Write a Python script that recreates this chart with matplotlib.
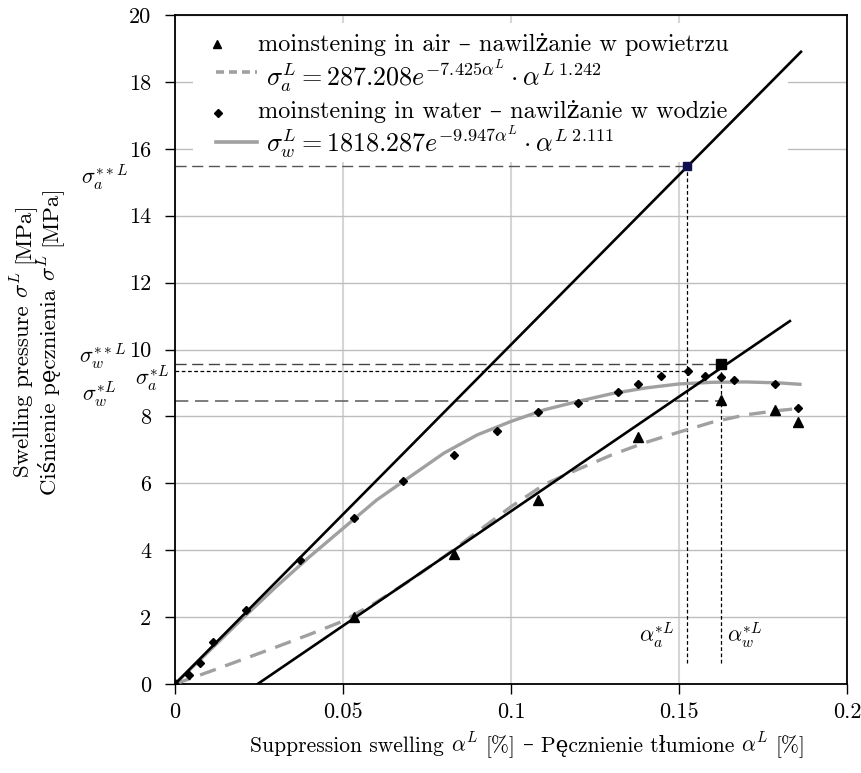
import numpy as np
import matplotlib
matplotlib.use("Agg")
import matplotlib.pyplot as plt
from matplotlib.lines import Line2D
from matplotlib.patches import Rectangle

plt.rcParams['font.family'] = ['cmr10', 'DejaVu Serif']
plt.rcParams['mathtext.fontset'] = 'cm'
plt.rcParams['axes.unicode_minus'] = False

# measured points
a_air = [0, 0.0533, 0.0831, 0.1079, 0.1377, 0.1626, 0.1785, 0.1854]
s_air = [0, 2.0, 3.9, 5.5, 7.39, 8.49, 8.18, 7.84]

a_wat = [0, 0.0042, 0.0074, 0.0114, 0.0211, 0.0372, 0.0533, 0.0679, 0.083, 0.0959,
         0.1079, 0.1198, 0.1317, 0.1377, 0.1446, 0.1527, 0.1576, 0.1626, 0.1665,
         0.1785, 0.1854]
s_wat = [0, 0.28, 0.64, 1.27, 2.21, 3.7, 4.95, 6.07, 6.86, 7.55,
         8.13, 8.4, 8.73, 8.96, 9.2, 9.35, 9.22, 9.17, 9.09,
         8.96, 8.25]

# fitted curves
a_fit = [0, 0.01, 0.02, 0.03, 0.04, 0.05, 0.06, 0.07, 0.08, 0.09, 0.10,
         0.11, 0.12, 0.13, 0.14, 0.15, 0.16, 0.17, 0.18, 0.186]
s_fit_air = [0, 0.36, 0.73, 1.1, 1.48, 1.88, 2.45, 3.1, 3.8, 4.55, 5.3,
             5.97, 6.42, 6.85, 7.22, 7.53, 7.83, 8.05, 8.18, 8.24]
s_fit_wat = [0, 0.97, 1.95, 2.9, 3.8, 4.65, 5.5, 6.2, 6.9, 7.45, 7.85,
             8.2, 8.45, 8.68, 8.85, 8.97, 9.02, 9.03, 9.0, 8.96]

# tangent lines
tan1_a = [0, 0.1863]
tan1_s = [0, 18.9]
tan2_a = [0.0246, 0.183]
tan2_s = [0, 10.85]

# characteristic points
sig_a2, alp_a = 15.5, 0.1524
sig_w2, alp_w = 9.57, 0.1626
sig_a1 = 9.35
sig_w1 = 8.47
y_low = 0.63

leg_labels = [
    'moinstening in air – nawilżanie w powietrzu',
    r'$\sigma_a^L = 287.208e^{-7.425\alpha^L}\cdot\alpha^{L\ 1.242}$',
    'moinstening in water – nawilżanie w wodzie',
    r'$\sigma_w^L = 1818.287e^{-9.947\alpha^L}\cdot\alpha^{L\ 2.111}$',
]
xlab = ['Suppression swelling', r'$\alpha^L$', '[%]', '–', 'Pęcznienie tłumione',
        r'$\alpha^L$', '[%]']
ylab1 = ['Swelling pressure', r'$\sigma^L$', '[MPa]']
ylab2 = ['Ciśnienie pęcznienia', r'$\sigma^L$', '[MPa]']

W, H = 862, 773
fig = plt.figure(figsize=(W / 100, H / 100), dpi=100)
ax = fig.add_axes([175 / W, 1 - 684 / H, 672 / W, 669 / H])


def fx(px):
    return px / W


def fy(py):
    return 1 - py / H


ax.set_axisbelow(True)
ax.xaxis.grid(True, color='#d6d6d6', lw=1.5)
ax.yaxis.grid(True, color='#bdbdbd', lw=1.0)

# white legend background: above the grid, below the curves
ax.add_patch(Rectangle((fx(193), fy(162)), fx(788) - fx(193), fy(23) - fy(162),
                       transform=fig.transFigure, facecolor='white',
                       edgecolor='none', zorder=1))

# guide lines
ax.plot([0, alp_a], [sig_a2, sig_a2], color='#555555', lw=1.0, dashes=(8, 4), zorder=2)
ax.plot([0, alp_w], [sig_w2, sig_w2], color='#444444', lw=1.0, dashes=(8, 4), zorder=2)
ax.plot([0, alp_a], [sig_a1, sig_a1], color='black', lw=0.9, dashes=(3, 2), zorder=2)
ax.plot([0, alp_w], [sig_w1, sig_w1], color='#666666', lw=1.2, dashes=(8, 4), zorder=2)
ax.plot([alp_a, alp_a], [y_low, sig_a2], color='black', lw=0.9, dashes=(3, 2), zorder=2)
ax.plot([alp_w, alp_w], [y_low, sig_w2], color='black', lw=0.9, dashes=(3, 2), zorder=2)

ax.plot(a_fit, s_fit_air, color='#a0a0a0', lw=2.4, dashes=(5, 3), zorder=3)
ax.plot(a_fit, s_fit_wat, color='#a0a0a0', lw=2.4, zorder=3)

ax.plot(tan1_a, tan1_s, color='black', lw=1.9, zorder=4)
ax.plot(tan2_a, tan2_s, color='black', lw=1.9, zorder=4)

ax.plot(a_air, s_air, '^', color='black', ms=7, ls='none', zorder=5)
ax.plot(a_wat, s_wat, 'D', color='black', ms=4.5, ls='none', zorder=5)

ax.plot([alp_a], [sig_a2], 's', color='#101050', ms=6, zorder=6)
ax.plot([alp_w], [sig_w2], 's', color='black', ms=7, zorder=6)

ax.set_xlim(0, 0.2)
ax.set_ylim(0, 20)
ax.set_xticks([0, 0.05, 0.1, 0.15, 0.2])
ax.set_xticklabels(['0', '0.05', '0.1', '0.15', '0.2'])
ax.set_yticks(range(0, 21, 2))
ax.set_yticklabels([str(v) for v in range(0, 21, 2)])
ax.tick_params(labelsize=16, length=7, width=1.0, direction='out')
ax.tick_params(axis='x', pad=6)
ax.tick_params(axis='y', pad=10)
for sp in ax.spines.values():
    sp.set_linewidth(1.3)

trans = ax.get_yaxis_transform()
ax.text(-0.105, 15.15, r'$\sigma_a^{**L}$', transform=trans, fontsize=16,
        ha='center', va='center', clip_on=False)
ax.text(-0.107, 9.8, r'$\sigma_w^{**L}$', transform=trans, fontsize=16,
        ha='center', va='center', clip_on=False)
ax.text(-0.034, 9.15, r'$\sigma_a^{*L}$', transform=trans, fontsize=16,
        ha='center', va='center', clip_on=False)
ax.text(-0.113, 8.67, r'$\sigma_w^{*L}$', transform=trans, fontsize=16,
        ha='center', va='center', clip_on=False)
ax.text(0.1435, 1.45, r'$\alpha_a^{*L}$', fontsize=16, ha='center', va='center')
ax.text(0.1696, 1.45, r'$\alpha_w^{*L}$', fontsize=16, ha='center', va='center')

# legend drawn by hand (pixel layout of the reference)
fig.lines.append(Line2D([fx(217)], [fy(43.5)], marker='^', color='black', ms=5.5,
                        transform=fig.transFigure, zorder=8))
fig.lines.append(Line2D([fx(216), fx(257)], [fy(72), fy(72)], color='#a0a0a0', lw=2.6,
                        dashes=(2.2, 1.4), transform=fig.transFigure, zorder=8))
fig.lines.append(Line2D([fx(218)], [fy(113)], marker='D', color='black', ms=3.8,
                        transform=fig.transFigure, zorder=8))
fig.lines.append(Line2D([fx(216), fx(257)], [fy(142), fy(142)], color='#a0a0a0', lw=2.6,
                        transform=fig.transFigure, zorder=8))
leg_xy = [(258, 51), (266, 85), (258, 118), (266, 151)]
for (px, py), lab in zip(leg_xy, leg_labels):
    fs = 18.8 if lab.startswith('$') else 17.5
    fig.text(fx(px), fy(py), lab, fontsize=fs, ha='left', va='baseline', zorder=9)

# axis labels assembled from pieces so Polish letters can use a fallback font
fig.canvas.draw()
rend = fig.canvas.get_renderer()


def put_pieces(pieces, cx, cy, size, vertical=False):
    gap = size * 100 / 72 * 0.333
    widths = []
    for s in pieces:
        t = fig.text(0, 0, s, fontsize=size)
        widths.append(t.get_window_extent(rend).width)
        t.remove()
    total = sum(widths) + gap * (len(pieces) - 1)
    off = -total / 2
    for s, w in zip(pieces, widths):
        if vertical:
            fig.text(fx(cx), fy(cy - off), s, fontsize=size, rotation=90,
                     rotation_mode='anchor', ha='left', va='baseline')
        else:
            fig.text(fx(cx + off), fy(cy), s, fontsize=size, ha='left', va='baseline')
        off += w + gap


put_pieces(xlab, 528, 752, 15.5)
put_pieces(ylab1, 29, 340, 16.5, vertical=True)
put_pieces(ylab2, 56, 340, 16.5, vertical=True)

fig.savefig('out.png', dpi=100)
